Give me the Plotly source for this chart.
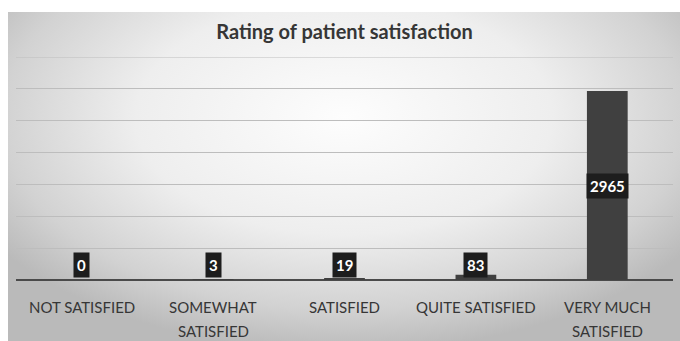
import base64
import plotly.graph_objects as go

# ---- data ----
categories = ["NOT SATISFIED", "SOMEWHAT SATISFIED", "SATISFIED",
              "QUITE SATISFIED", "VERY MUCH SATISFIED"]
label_lines = [["NOT SATISFIED"], ["SOMEWHAT", "SATISFIED"], ["SATISFIED"],
               ["QUITE SATISFIED"], ["VERY MUCH", "SATISFIED"]]
counts = [0, 3, 19, 83, 2965]
title_text = "Rating of patient satisfaction"

Y_MAX = 3500
Y_STEP = 500

FONT = "Lato, 'Open Sans', sans-serif"
BAR_COLOR = "#404040"
LABEL_BG = "#1d1d1d"
TEXT_COLOR = "#363636"
GRID_COLOR = "#bdbdbd"

# soft radial backdrop for the chart panel
bg_svg = (
    "<svg xmlns='http://www.w3.org/2000/svg' width='672' height='329' "
    "viewBox='0 0 672 329' preserveAspectRatio='none'>"
    "<defs><radialGradient id='g' cx='0.5' cy='0.32' r='0.62' "
    "gradientTransform='translate(0.5 0.32) scale(1 1.15) translate(-0.5 -0.32)'>"
    "<stop offset='0' stop-color='#fdfdfd'/>"
    "<stop offset='0.5' stop-color='#eeeeee'/>"
    "<stop offset='0.82' stop-color='#d2d2d2'/>"
    "<stop offset='1' stop-color='#bababa'/>"
    "</radialGradient></defs>"
    "<rect width='672' height='329' fill='url(#g)'/></svg>"
)
bg_uri = "data:image/svg+xml;base64," + base64.b64encode(bg_svg.encode()).decode()

W, H = 680, 341
M_L, M_R, M_T, M_B = 16, 7, 57, 61
plot_w = W - M_L - M_R
plot_h = H - M_T - M_B

fig = go.Figure()
fig.add_trace(go.Bar(
    x=categories, y=counts,
    marker=dict(color=BAR_COLOR, line=dict(width=0)),
    width=0.31,
    hoverinfo="x+y",
))

annotations = []
# value labels: centred in tall bars, sitting on the baseline for short ones
box_px = 27
for cat, v in zip(categories, counts):
    bar_px = v / Y_MAX * plot_h
    if bar_px > box_px + 4:
        y, anchor, shift = v / 2, "middle", 0
    else:
        y, anchor, shift = 0, "bottom", 2
    annotations.append(dict(
        x=cat, y=y, xref="x", yref="y", text=f"<b>{v}</b>",
        showarrow=False, yanchor=anchor, yshift=shift,
        font=dict(family=FONT, size=15, color="white"),
        bgcolor=LABEL_BG, borderpad=3,
    ))

# category labels below the axis
for cat, lines in zip(categories, label_lines):
    for i, line in enumerate(lines):
        annotations.append(dict(
            x=cat, y=0, xref="x", yref="paper", text=line,
            showarrow=False, yanchor="middle", yshift=-27 - 24 * i,
            font=dict(family=FONT, size=15, color=TEXT_COLOR),
        ))

fig.update_layout(
    width=W, height=H,
    margin=dict(l=M_L, r=M_R, t=M_T, b=M_B),
    paper_bgcolor="white",
    plot_bgcolor="rgba(0,0,0,0)",
    showlegend=False,
    title=dict(
        text=f"<b>{title_text}</b>", x=0.5, xref="paper",
        y=1 - 32 / H, yref="container", yanchor="middle",
        font=dict(family=FONT, size=20, color=TEXT_COLOR),
    ),
    xaxis=dict(showticklabels=False, showgrid=False, zeroline=False,
               showline=False, ticks=""),
    yaxis=dict(range=[0, Y_MAX], tick0=0, dtick=Y_STEP,
               showticklabels=False,
               showgrid=True, gridcolor=GRID_COLOR, gridwidth=1,
               zeroline=True, zerolinecolor="#4a4a4a", zerolinewidth=1.5,
               ticks=""),
    annotations=annotations,
    # gridline on the top edge of the value range
    shapes=[dict(type="line", xref="paper", yref="y", x0=0, x1=1,
                 y0=Y_MAX, y1=Y_MAX, line=dict(color=GRID_COLOR, width=1),
                 layer="below")],
    images=[dict(
        source=bg_uri, xref="paper", yref="paper",
        x=(8 - M_L) / plot_w, y=(H - M_B - 12) / plot_h,
        sizex=672 / plot_w, sizey=329 / plot_h,
        xanchor="left", yanchor="top", sizing="stretch", layer="below",
    )],
    bargap=0.69,
)

fig.write_html("out.html")
